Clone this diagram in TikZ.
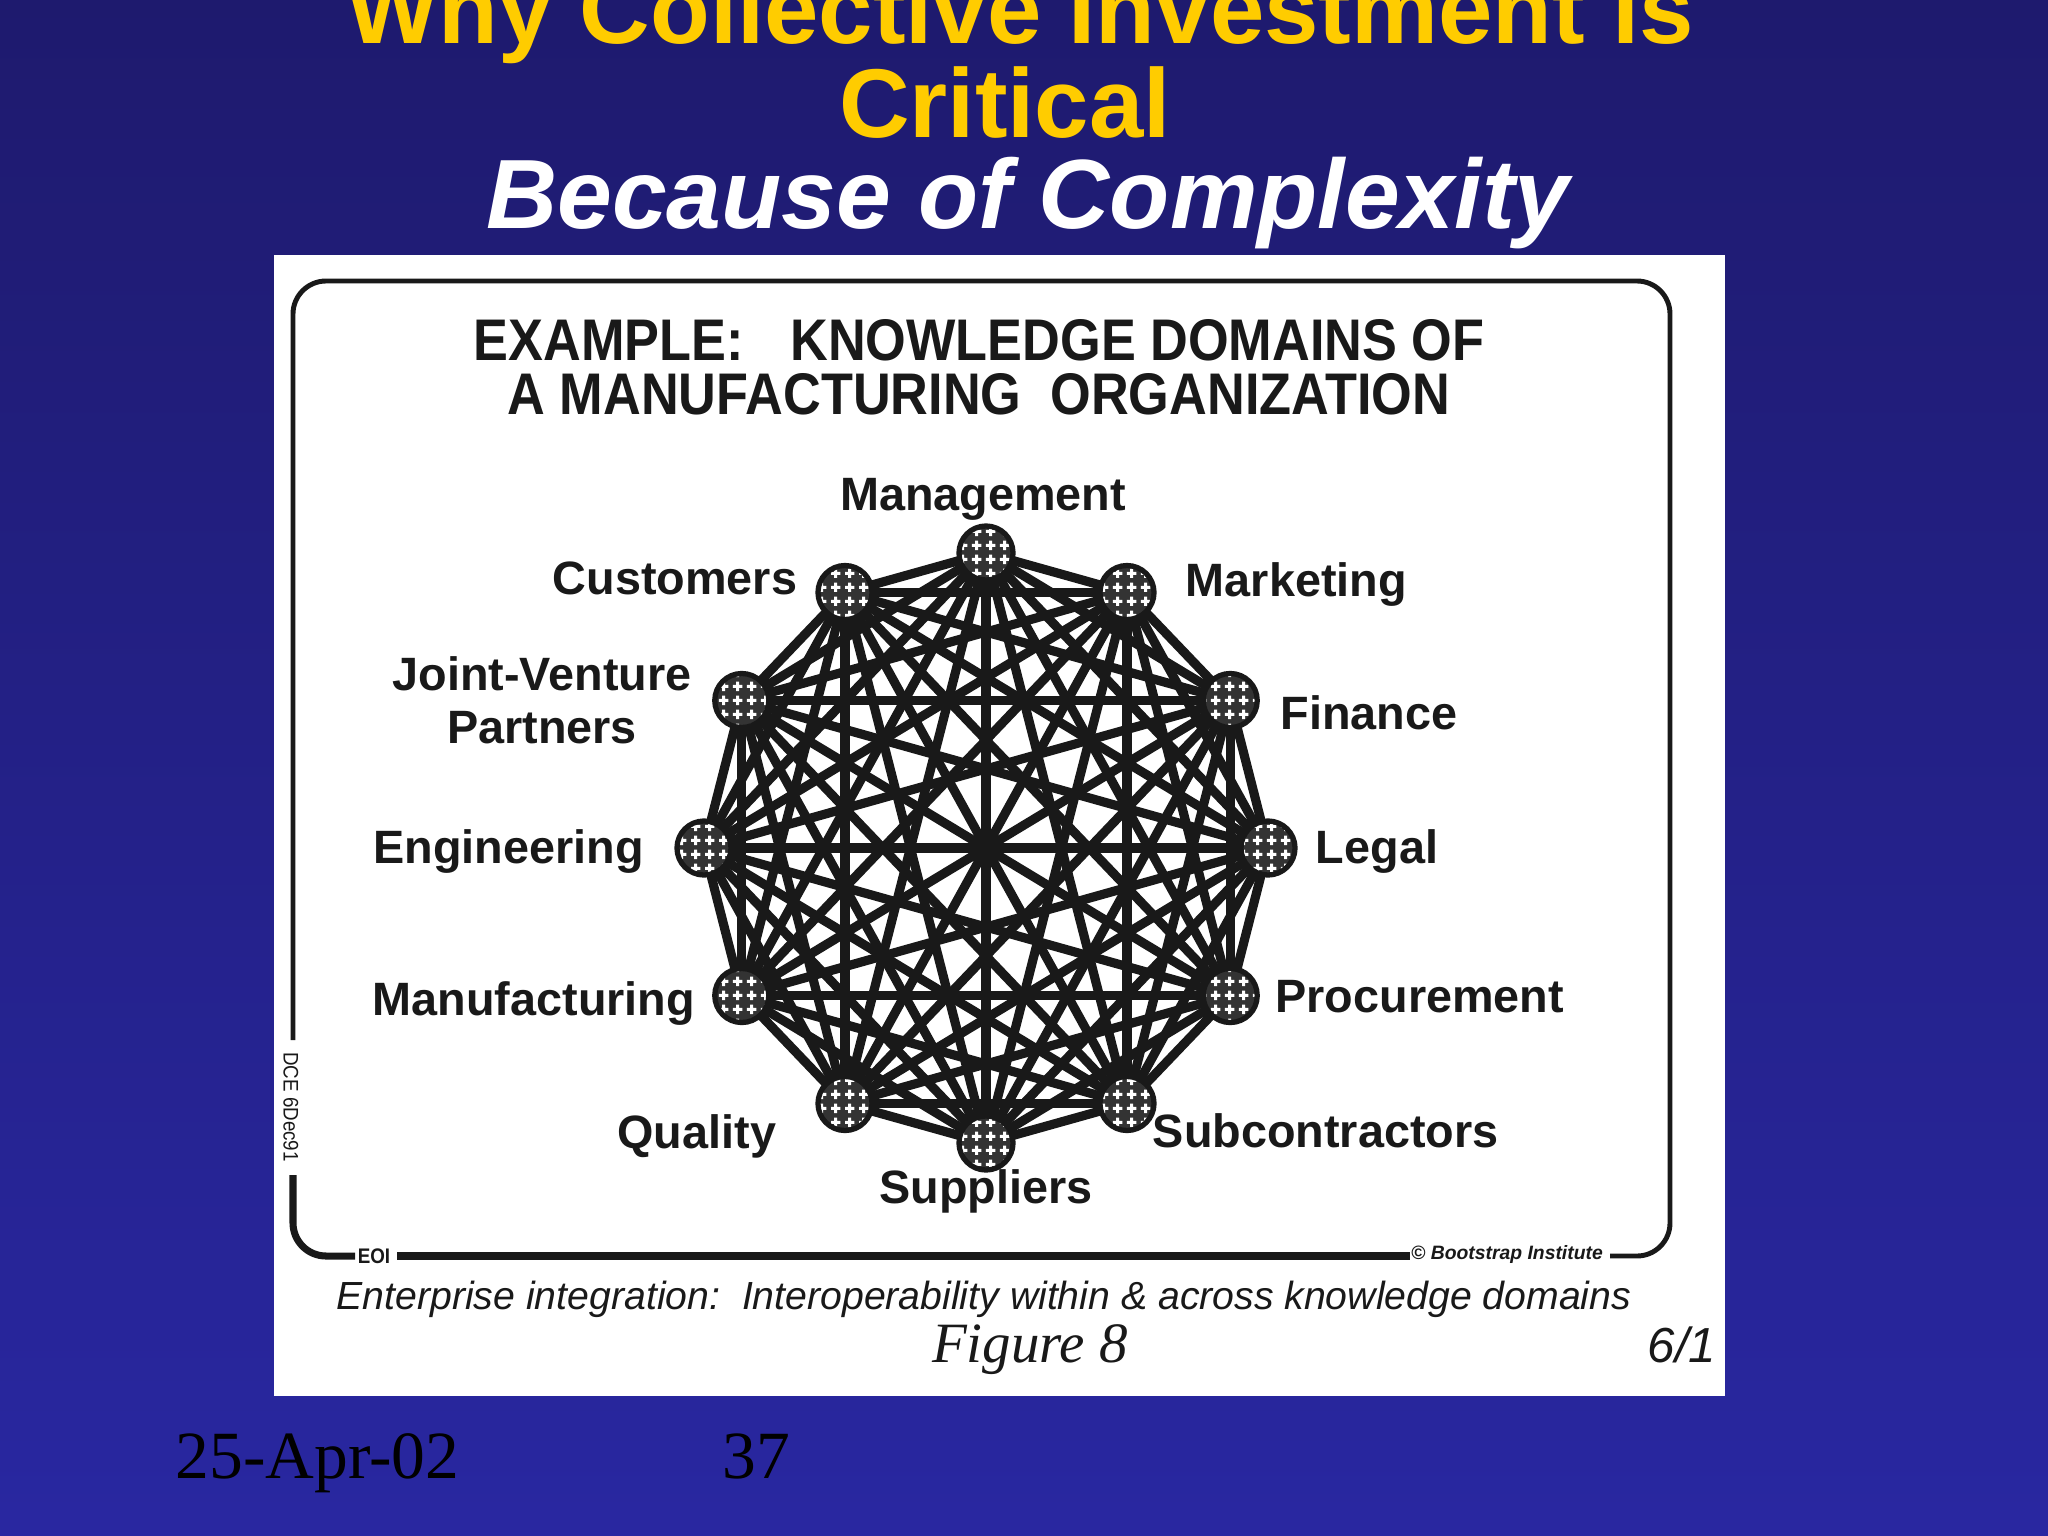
\documentclass[tikz,border=0pt]{standalone}
\usepackage{fontspec}
\usepackage{tikz}
\usetikzlibrary{calc}
\usetikzlibrary{patterns,backgrounds,shapes}
\usetikzlibrary{positioning}
\setmainfont{Liberation Sans}
\newfontfamily\narrowsans[FakeStretch=0.89]{Liberation Sans}
\newfontfamily\timesfont{Liberation Serif}
\definecolor{bgtop}{rgb}{0.118,0.102,0.431}
\definecolor{bgbot}{rgb}{0.160,0.153,0.630}
\definecolor{gold}{rgb}{1.0,0.8,0.0}
\definecolor{ink}{rgb}{0.1,0.1,0.1}

\pgfdeclarelayer{bg}
\pgfdeclarelayer{edges}
\pgfsetlayers{bg,edges,main}

\pgfdeclarepatternformonly{plusgrid}{\pgfpoint{0pt}{0pt}}{\pgfpoint{4pt}{4pt}}{\pgfpoint{4pt}{4pt}}%
{
  \pgfsetlinewidth{0.9pt}
  \pgfpathmoveto{\pgfpoint{0.6pt}{2pt}}\pgfpathlineto{\pgfpoint{3.4pt}{2pt}}
  \pgfpathmoveto{\pgfpoint{2pt}{0.6pt}}\pgfpathlineto{\pgfpoint{2pt}{3.4pt}}
  \pgfusepath{stroke}
}

\begin{document}
\begin{tikzpicture}[x=0.01cm,y=-0.01cm,
    dnode/.style={circle,draw=ink,line width=1.5pt,minimum size=5.4mm,inner sep=0pt,
      preaction={fill=black!80},pattern=plusgrid,pattern color=white},
    link/.style={ink,line width=2.6pt},
    lbl/.style={font=\fontsize{13.3}{15}\selectfont\bfseries,text=ink,inner sep=0pt,
      text height=0.72em,text depth=0.2em},
    txt/.style={inner sep=0pt,text=ink},
    frameline/.style={ink,line width=1.4pt,rounded corners=3.3mm},
  ]
    \useasboundingbox (0,0) rectangle (2048,1536);
    % \draw[step=100,gray,very thin] (0,0) grid (2048,1536);
    \begin{pgfonlayer}{bg}
      \shade[top color=bgtop,bottom color=bgbot] (0,0) rectangle (2048,1536);
      \fill[white] (274,255) rectangle (1725,1396);
    \end{pgfonlayer}

    \node[anchor=base,text=gold,font=\fontsize{27.8}{27.8}\selectfont\bfseries] (t1) at (1020,43) {Why Collective Investment is};
    \node[anchor=base,text=gold,font=\fontsize{27.8}{27.8}\selectfont\bfseries] (t2) at (1005,137) {Critical};
    \node[anchor=base,text=white,font=\fontsize{28}{28}\selectfont\bfseries\itshape] (t3) at (1028,228) {Because of Complexity};

    % frame of the figure
    \draw[frameline] (293,1040) -- (293,281) -- (1670,281) -- (1670,1256) -- (1610,1256);
    \draw[frameline,line width=2pt] (293,1175) -- (293,1256) -- (355,1256);
    \draw[ink,line width=2.3pt] (397,1256) -- (1410,1256);
    \node[txt,rotate=-90,font=\narrowsans\fontsize{6}{6}\selectfont] (dce) at (291,1107) {DCE 6Dec91};
    \node[txt,font=\narrowsans\bfseries\fontsize{6}{6}\selectfont] (eoi) at (374,1256) {EOI};
    \node[txt,font=\bfseries\itshape\fontsize{5.5}{6}\selectfont] (bsi) at (1507,1254) {\textcopyright\ Bootstrap Institute};

    \node[txt,anchor=base,font=\narrowsans\bfseries\fontsize{16.7}{18}\selectfont] (h1) at (979,360) {EXAMPLE:\hspace{0.55em} KNOWLEDGE DOMAINS OF};
    \node[txt,anchor=base,font=\narrowsans\bfseries\fontsize{16.7}{18}\selectfont] (h2) at (979,414) {A MANUFACTURING\ \ ORGANIZATION};

    \foreach \nm/\ang in {mgmt/90,mkt/60,fin/30,legal/0,proc/-30,subc/-60,supp/-90,qual/-120,manu/-150,engr/180,jv/150,cust/120}
      \node[dnode] (\nm) at ({986+282*cos(\ang)},{848-295*sin(\ang)}) {};

    \begin{pgfonlayer}{edges}
      \foreach \a [count=\i] in {mgmt,mkt,fin,legal,proc,subc,supp,qual,manu,engr,jv,cust}
        \foreach \b [count=\j] in {mgmt,mkt,fin,legal,proc,subc,supp,qual,manu,engr,jv,cust}
          {\ifnum\j>\i \draw[link] (\a.center) -- (\b.center); \fi}
    \end{pgfonlayer}

    \node[lbl,above=0.55mm of mgmt,xshift=-0.3mm] (lmgmt) {Management};
    \node[lbl,right=2.85mm of mkt,yshift=0.5mm] (lmkt) {Marketing};
    \node[lbl,right=2mm of fin,yshift=-2mm] (lfin) {Finance};
    \node[lbl,right=1.75mm of legal,yshift=-0.6mm] (llegal) {Legal};
    \node[lbl,right=1.5mm of proc,yshift=-0.8mm] (lproc) {Procurement};
    \node[lbl,right=-0.45mm of subc,yshift=-3.5mm] (lsubc) {Subcontractors};
    \node[lbl,below=0.45mm of supp] (lsupp) {Suppliers};
    \node[lbl,left=3.85mm of qual,yshift=-3.6mm] (lqual) {Quality};
    \node[lbl,left=1.65mm of manu,yshift=-1.1mm] (lmanu) {Manufacturing};
    \node[lbl,left=3mm of engr,yshift=-0.6mm] (lengr) {Engineering};
    \node[lbl,left=2mm of jv,text height=,text depth=,align=center] (ljv) {Joint-Venture\\Partners};
    \node[lbl,left=1.75mm of cust,yshift=0.7mm] (lcust) {Customers};

    \node[txt,anchor=base west,font=\itshape\fontsize{11.15}{12}\selectfont] (cap) at (336,1309)
      {Enterprise integration:\ \ Interoperability within \& across knowledge domains};
    \node[txt,anchor=base,font=\timesfont\itshape\fontsize{16.2}{18}\selectfont] (fig) at (1030,1362) {Figure 8};
    \node[txt,anchor=base east,font=\itshape\fontsize{14}{16}\selectfont] (pg) at (1717,1362) {6/1};

    \node[anchor=base west,inner sep=0pt,font=\timesfont\fontsize{19.2}{20}\selectfont] (date) at (175,1478) {25-Apr-02};
    \node[anchor=base west,inner sep=0pt,font=\timesfont\fontsize{19.2}{20}\selectfont] (num) at (722,1478) {37};
\end{tikzpicture}
\end{document}
